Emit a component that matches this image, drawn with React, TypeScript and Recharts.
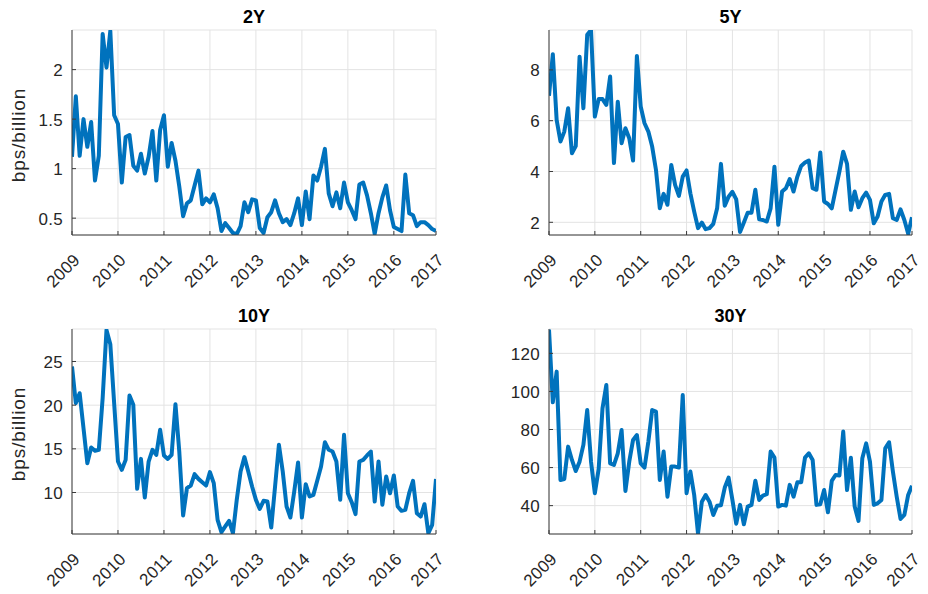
import { LineChart, Line, XAxis, YAxis, CartesianGrid } from "recharts";

// monthly values, Jan 2009 .. Dec 2016
const y2 = [
  1.12, 1.73, 1.13, 1.5, 1.22, 1.47, 0.88, 1.13, 2.36, 2.02, 2.39, 1.54,
  1.45, 0.86, 1.32, 1.34, 1.03, 0.98, 1.15, 0.95, 1.12, 1.38, 0.88, 1.39,
  1.54, 1.02, 1.26, 1.08, 0.82, 0.52, 0.65, 0.68, 0.83, 0.98, 0.64, 0.7,
  0.66, 0.74, 0.6, 0.37, 0.45, 0.4, 0.35, 0.34, 0.42, 0.66, 0.56, 0.69,
  0.68, 0.4, 0.35, 0.51, 0.56, 0.68, 0.55, 0.46, 0.49, 0.43, 0.55, 0.7,
  0.43, 0.77, 0.49, 0.93, 0.88, 1.02, 1.2, 0.75, 0.62, 0.76, 0.6, 0.86,
  0.66, 0.58, 0.49, 0.84, 0.86, 0.73, 0.55, 0.34, 0.55, 0.71, 0.83, 0.58,
  0.41, 0.39, 0.37, 0.94, 0.55, 0.53, 0.42, 0.46, 0.46, 0.43, 0.39, 0.37,
];

const y5 = [
  6.98, 8.62, 6.03, 5.18, 5.57, 6.49, 4.72, 5.0, 8.52, 6.49, 9.38, 9.57,
  6.16, 6.85, 6.85, 6.62, 7.74, 4.33, 6.75, 5.11, 5.7, 5.31, 4.43, 8.55,
  6.56, 5.9, 5.57, 4.98, 4.06, 2.55, 3.12, 2.69, 4.26, 3.47, 3.04, 3.8,
  4.04, 3.14, 2.42, 1.77, 1.99, 1.73, 1.77, 1.94, 2.55, 4.3, 2.65, 3.01,
  3.2, 2.9, 1.62, 1.99, 2.38, 2.38, 3.28, 2.12, 2.09, 2.03, 2.55, 4.19,
  1.9, 3.21, 3.34, 3.7, 3.21, 3.8, 4.22, 4.35, 4.43, 3.34, 3.28, 4.75,
  2.82, 2.72, 2.55, 3.28, 4.0, 4.78, 4.3, 2.49, 3.21, 2.59, 2.95, 3.17,
  2.88, 1.96, 2.23, 2.82, 3.08, 3.12, 2.16, 2.09, 2.51, 2.09, 1.55, 2.2,
];

const y10 = [
  24.43, 20.23, 21.37, 17.37, 13.36, 15.15, 14.77, 14.89, 20.8, 28.6, 26.98, 20.23,
  13.55, 12.6, 13.74, 21.1, 20.04, 10.42, 13.85, 9.43, 13.55, 14.89, 14.31, 17.18,
  14.24, 13.85, 14.31, 20.11, 14.69, 7.37, 10.5, 10.8, 12.1, 11.56, 11.18, 10.8,
  12.33, 11.07, 6.87, 5.46, 6.11, 6.76, 5.34, 9.16, 12.4, 14.05, 12.4, 10.69,
  9.16, 8.13, 9.05, 8.97, 5.99, 10.7, 15.46, 12.4, 8.4, 7.14, 10.11, 13.44,
  7.14, 10.95, 9.54, 9.73, 11.34, 12.98, 15.76, 14.89, 14.69, 13.55, 9.16, 16.6,
  9.92, 8.89, 7.52, 13.55, 13.74, 14.24, 14.69, 8.97, 13.55, 8.59, 11.83, 9.92,
  11.95, 8.4, 7.9, 8.02, 9.92, 11.34, 7.63, 7.25, 8.66, 5.34, 6.3, 11.56,
];

const y30 = [
  132.5, 94.3, 110.4, 53.5, 54.0, 71.0, 64.0, 58.2, 63.1, 71.9, 90.2, 63.1,
  46.5, 59.3, 91.1, 103.4, 62.2, 61.4, 67.5, 79.7, 47.7, 63.1, 74.5, 77.1,
  62.2, 60.0, 73.6, 90.2, 89.4, 53.5, 68.4, 44.7, 60.5, 60.5, 60.0, 98.1,
  46.5, 57.9, 45.6, 25.3, 42.1, 45.6, 42.1, 35.1, 40.0, 40.2, 49.5, 54.7,
  43.0, 30.5, 40.4, 30.2, 39.5, 40.4, 53.1, 43.0, 45.3, 46.0, 68.4, 65.2,
  39.5, 40.4, 40.0, 50.9, 44.7, 52.3, 52.3, 65.2, 67.5, 64.0, 40.4, 40.7,
  48.2, 36.5, 53.0, 56.1, 55.8, 78.9, 48.2, 65.2, 39.5, 32.0, 64.9, 72.7,
  63.1, 40.4, 41.2, 43.0, 70.1, 73.3, 57.9, 44.7, 33.0, 35.1, 45.6, 50.5,
];

const yearLabels = ["2009", "2010", "2011", "2012", "2013", "2014", "2015", "2016", "2017"];
const xTicks = [0, 12, 24, 36, 48, 60, 72, 84, 95];

const ticks2 = [0.5, 1, 1.5, 2];
const ticks5 = [2, 4, 6, 8];
const ticks10 = [10, 15, 20, 25];
const ticks30 = [40, 60, 80, 100, 120];

const FONT = "'Liberation Sans', Arial, Helvetica, sans-serif";
const AX = "#3a3a3a";
const TXT = "#262626";

function BottomTick(props: any) {
  const { x, y, payload } = props;
  const idx = xTicks.indexOf(payload.value);
  const lx = x + 9;
  const ly = y + 26;
  return (
    <g>
      <line x1={x} y1={y} x2={x} y2={y - 4} stroke={AX} />
      <text
        x={lx}
        y={ly}
        transform={`rotate(-45, ${lx}, ${ly})`}
        textAnchor="end"
        fill={TXT}
        fontSize={17}
        letterSpacing={0.3}
        fontFamily={FONT}
      >
        {yearLabels[idx]}
      </text>
    </g>
  );
}

function TopTick(props: any) {
  const { x, y } = props;
  return <line x1={x} y1={y} x2={x} y2={y + 4} stroke={AX} />;
}

function LeftTick(props: any) {
  const { x, y, payload } = props;
  return (
    <g>
      <line x1={x} y1={y} x2={x + 4} y2={y} stroke={AX} />
      <text x={x - 9} y={y + 6.5} textAnchor="end" fill={TXT} fontSize={17} letterSpacing={0.3} fontFamily={FONT}>
        {String(payload.value)}
      </text>
    </g>
  );
}

function RightTick(props: any) {
  const { x, y } = props;
  return <line x1={x} y1={y} x2={x - 4} y2={y} stroke={AX} />;
}

type PanelProps = {
  title: string;
  values: number[];
  domain: [number, number];
  yTicks: number[];
  x0: number;
  y0: number;
  x1: number;
  y1: number;
  yLabel?: boolean;
};

function Panel({ title, values, domain, yTicks, x0, y0, x1, y1, yLabel }: PanelProps) {
  const padL = 60;
  const padT = 30;
  const padR = 20;
  const padB = 60;
  const w = x1 - x0;
  const h = y1 - y0;
  const data = values.map((v, i) => ({ m: i, v }));
  return (
    <>
      <div
        style={{
          position: "absolute",
          left: x0,
          top: y0 - 22,
          width: w,
          textAlign: "center",
          fontFamily: FONT,
          fontWeight: "bold",
          fontSize: 18,
          lineHeight: "18px",
          color: "#000",
        }}
      >
        {title}
      </div>
      {yLabel && (
        <div
          style={{
            position: "absolute",
            left: 19,
            top: (y0 + y1) / 2 + 2,
            transform: "translate(-50%, -50%) rotate(-90deg)",
            fontFamily: FONT,
            fontSize: 19,
            letterSpacing: 0.9,
            lineHeight: "20px",
            whiteSpace: "nowrap",
            color: TXT,
          }}
        >
          bps/billion
        </div>
      )}
      <div style={{ position: "absolute", left: x0 - padL, top: y0 - padT }}>
        <LineChart
          width={w + padL + padR}
          height={h + padT + padB}
          data={data}
          margin={{ top: padT, right: padR, bottom: padB - 40, left: padL - 40 }}
        >
          <CartesianGrid xAxisId="b" yAxisId="l" stroke="#e3e3e3" />
          <XAxis
            xAxisId="b"
            dataKey="m"
            type="number"
            domain={[0, 95]}
            ticks={xTicks}
            interval={0}
            height={40}
            tickSize={0}
            tickMargin={0}
            tickLine={false}
            axisLine={{ stroke: AX }}
            tick={<BottomTick />}
            allowDataOverflow
          />
          <XAxis
            xAxisId="t"
            orientation="top"
            dataKey="m"
            type="number"
            domain={[0, 95]}
            ticks={xTicks}
            interval={0}
            height={0}
            tickSize={0}
            tickMargin={0}
            tickLine={false}
            axisLine={{ stroke: AX }}
            tick={<TopTick />}
            allowDataOverflow
          />
          <YAxis
            yAxisId="l"
            type="number"
            domain={domain}
            ticks={yTicks}
            interval={0}
            width={40}
            tickSize={0}
            tickMargin={0}
            tickLine={false}
            axisLine={{ stroke: AX }}
            tick={<LeftTick />}
            allowDataOverflow
          />
          <YAxis
            yAxisId="r"
            orientation="right"
            type="number"
            domain={domain}
            ticks={yTicks}
            interval={0}
            width={0}
            tickSize={0}
            tickMargin={0}
            tickLine={false}
            axisLine={{ stroke: AX }}
            tick={<RightTick />}
            allowDataOverflow
          />
          <Line
            xAxisId="b"
            yAxisId="l"
            type="linear"
            dataKey="v"
            stroke="#0072BD"
            strokeWidth={4}
            strokeLinejoin="round"
            dot={false}
            isAnimationActive={false}
          />
        </LineChart>
      </div>
    </>
  );
}

export default function App() {
  return (
    <div style={{ position: "absolute", left: 0, top: 0, width: 928, height: 594, background: "#fff", overflow: "hidden" }}>
      <Panel title="2Y" values={y2} domain={[0.33, 2.4]} yTicks={ticks2} x0={72} y0={30} x1={436} y1={235} yLabel />
      <Panel title="5Y" values={y5} domain={[1.5, 9.57]} yTicks={ticks5} x0={549} y0={30} x1={912} y1={235} />
      <Panel title="10Y" values={y10} domain={[5.25, 28.72]} yTicks={ticks10} x0={72} y0={329} x1={436} y1={534} yLabel />
      <Panel title="30Y" values={y30} domain={[25.1, 132.8]} yTicks={ticks30} x0={549} y0={329} x1={912} y1={534} />
    </div>
  );
}
